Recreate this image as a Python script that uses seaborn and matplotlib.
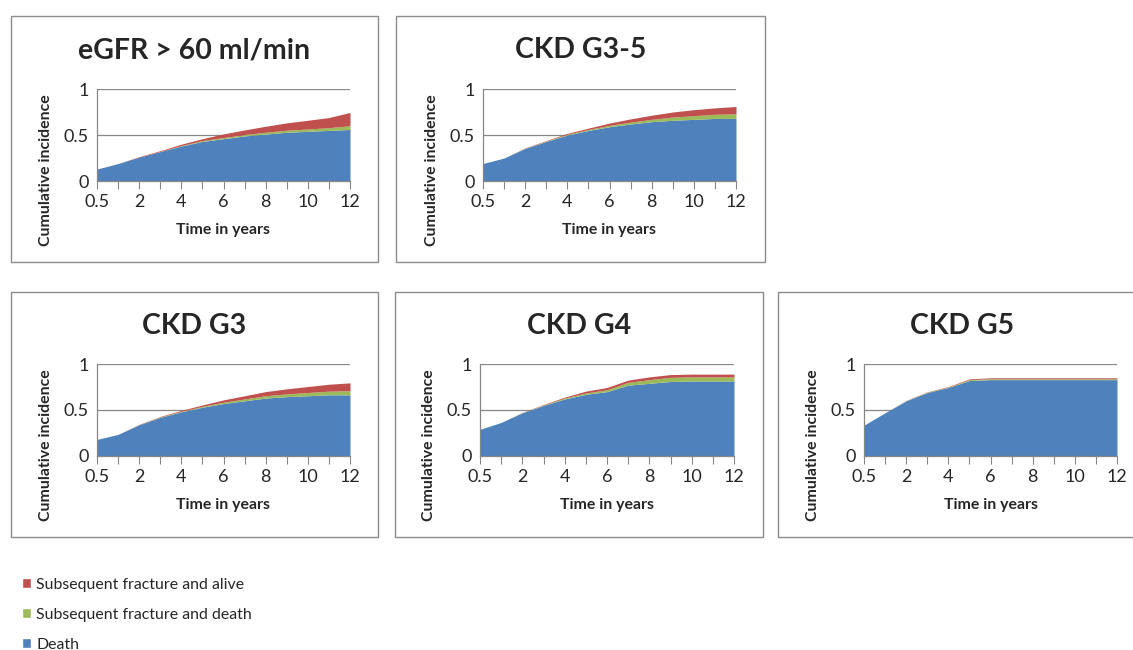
import matplotlib
matplotlib.use("Agg")
import matplotlib.pyplot as plt
from matplotlib.patches import Rectangle, Patch
import seaborn as sns
import pandas as pd

time_labels = ["0.5", "1", "2", "3", "4", "5", "6", "7", "8", "9", "10", "11", "12"]
series_names = ["Death", "Subsequent fracture and death", "Subsequent fracture and alive"]

egfr60_death = [0.13, 0.19, 0.26, 0.32, 0.38, 0.43, 0.46, 0.49, 0.51, 0.53, 0.54, 0.55, 0.56]
egfr60_frac_death = [0.0, 0.0, 0.0, 0.002, 0.005, 0.01, 0.012, 0.015, 0.02, 0.022, 0.025, 0.03, 0.04]
egfr60_frac_alive = [0.0, 0.0, 0.005, 0.008, 0.015, 0.02, 0.04, 0.05, 0.065, 0.08, 0.095, 0.11, 0.145]

g35_death = [0.19, 0.25, 0.355, 0.43, 0.50, 0.55, 0.59, 0.62, 0.645, 0.66, 0.67, 0.68, 0.68]
g35_frac_death = [0.0, 0.0, 0.003, 0.005, 0.008, 0.01, 0.015, 0.02, 0.025, 0.035, 0.04, 0.045, 0.05]
g35_frac_alive = [0.0, 0.0, 0.003, 0.005, 0.01, 0.015, 0.025, 0.035, 0.045, 0.055, 0.065, 0.07, 0.08]

g3_death = [0.18, 0.235, 0.34, 0.42, 0.48, 0.53, 0.57, 0.60, 0.63, 0.645, 0.655, 0.665, 0.665]
g3_frac_death = [0.0, 0.0, 0.002, 0.005, 0.006, 0.01, 0.015, 0.02, 0.025, 0.03, 0.035, 0.04, 0.045]
g3_frac_alive = [0.0, 0.0, 0.003, 0.005, 0.01, 0.015, 0.025, 0.035, 0.045, 0.055, 0.065, 0.075, 0.085]

g4_death = [0.29, 0.365, 0.47, 0.55, 0.62, 0.67, 0.70, 0.77, 0.79, 0.81, 0.815, 0.815, 0.815]
g4_frac_death = [0.0, 0.0, 0.003, 0.005, 0.01, 0.015, 0.02, 0.03, 0.04, 0.045, 0.045, 0.045, 0.045]
g4_frac_alive = [0.0, 0.0, 0.002, 0.005, 0.01, 0.02, 0.025, 0.025, 0.03, 0.03, 0.03, 0.03, 0.03]

g5_death = [0.335, 0.47, 0.60, 0.69, 0.745, 0.82, 0.83, 0.83, 0.83, 0.83, 0.83, 0.83, 0.83]
g5_frac_death = [0.0, 0.0, 0.003, 0.005, 0.005, 0.01, 0.01, 0.01, 0.01, 0.01, 0.01, 0.01, 0.01]
g5_frac_alive = [0.0, 0.0, 0.002, 0.003, 0.005, 0.008, 0.01, 0.01, 0.01, 0.01, 0.01, 0.01, 0.01]

titles = ["eGFR > 60 ml/min", "CKD G3-5", "CKD G3", "CKD G4", "CKD G5"]
panel_data = [
    (egfr60_death, egfr60_frac_death, egfr60_frac_alive),
    (g35_death, g35_frac_death, g35_frac_alive),
    (g3_death, g3_frac_death, g3_frac_alive),
    (g4_death, g4_frac_death, g4_frac_alive),
    (g5_death, g5_frac_death, g5_frac_alive),
]

sns.set_theme(style="white")
plt.rcParams["font.family"] = ["Lato", "DejaVu Sans"]

colors = ["#4F81BD", "#9BBB59", "#C0504D"]
W, H = 1133, 650
fig = plt.figure(figsize=(W / 100, H / 100), dpi=100)

boxes = [(11, 16, 378, 262), (396, 16, 765, 262), (11, 292, 378, 537),
         (395, 292, 763, 537), (778, 292, 1146, 537)]
plots = [(97, 89, 350, 181), (483, 89, 736, 181), (97, 364, 350, 456),
         (480, 364, 734, 456), (864, 364, 1117, 456)]

grey = "#878787"

for (bx0, by0, bx1, by1) in boxes:
    fig.patches.append(Rectangle((bx0 / W, 1 - by1 / H), (bx1 - bx0) / W, (by1 - by0) / H,
                                 transform=fig.transFigure, fill=False,
                                 edgecolor="#8c8c8c", linewidth=1.0))

for (box, (px0, py0, px1, py1), title, data) in zip(boxes, plots, titles, panel_data):
    ax = fig.add_axes([px0 / W, 1 - py1 / H, (px1 - px0) / W, (py1 - py0) / H])
    df = pd.DataFrame({"x": range(len(time_labels)),
                       series_names[0]: data[0],
                       series_names[1]: data[1],
                       series_names[2]: data[2]})
    ax.stackplot(df["x"], df[series_names[0]], df[series_names[1]], df[series_names[2]],
                 colors=colors, linewidth=0)
    ax.set_xlim(0, len(time_labels) - 1)
    ax.set_ylim(0, 1)
    ax.set_yticks([0, 0.5, 1])
    ax.set_yticklabels(["0", "0.5", "1"], fontsize=13)
    ax.set_xticks(range(len(time_labels)))
    ax.set_xticklabels([t if k % 2 == 0 else "" for k, t in enumerate(time_labels)], fontsize=13)
    ax.tick_params(axis="x", direction="out", length=6, color=grey, width=0.8, pad=3, bottom=True)
    ax.tick_params(axis="y", length=0, pad=6)
    for yv in [0.5, 1.0]:
        ax.axhline(yv, color=grey, linewidth=0.9, zorder=0)
    sns.despine(ax=ax, top=True, right=True)
    for sp in ["left", "bottom"]:
        ax.spines[sp].set_color(grey)
        ax.spines[sp].set_linewidth(0.9)
    ax.set_xlabel("Time in years", fontsize=11.4, fontweight="bold", labelpad=10)
    ax.set_ylabel("Cumulative incidence", fontsize=11.4, fontweight="bold")
    ax.yaxis.set_label_coords(-0.175, 0.12, transform=ax.transAxes)
    bx0, by0, bx1, by1 = box
    cx = (bx0 + bx1) / 2
    fig.text(cx / W, 1 - (by0 + 42) / H, title, fontsize=20.5, fontweight="bold",
             ha="center", va="baseline")

handles = [Patch(facecolor=colors[2]), Patch(facecolor=colors[1]), Patch(facecolor=colors[0])]
labels = [series_names[2], series_names[1], series_names[0]]
fig.legend(handles, labels, loc="upper left", bbox_to_anchor=(22 / W, 1 - 578 / H),
           frameon=False, fontsize=11.4, handlelength=0.6, handleheight=0.6,
           handletextpad=0.3, labelspacing=1.0, borderaxespad=0, borderpad=0)

fig.savefig("out.png", dpi=100, facecolor="white")
